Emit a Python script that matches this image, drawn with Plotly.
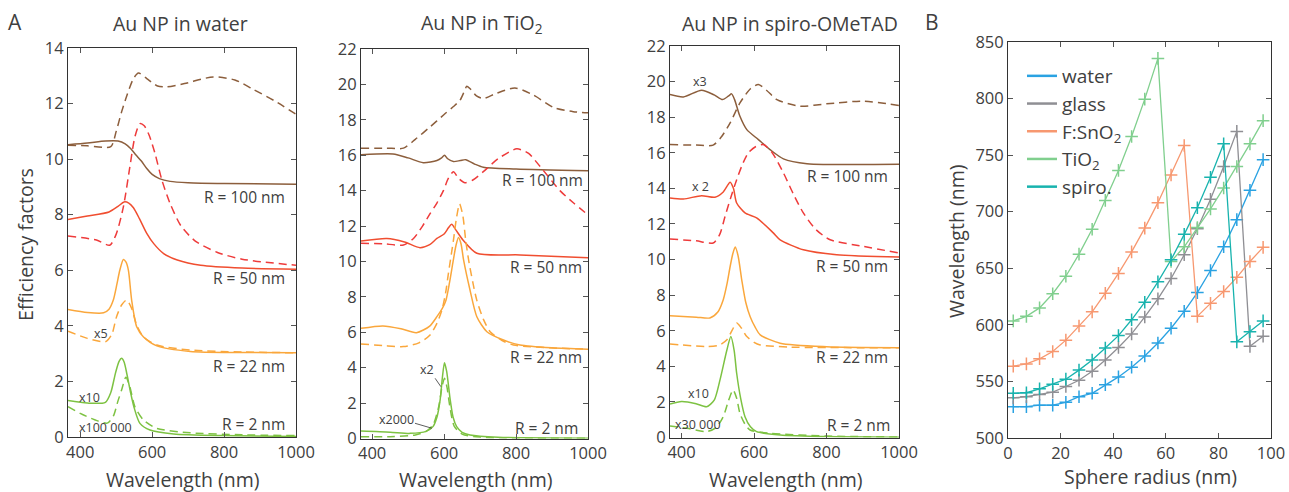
import plotly.graph_objects as go

# ---------------- Panel A data (wavelength nm, efficiency factor) ----------------
# Au NP in water
W_R100_SOLID_WL = [366, 420, 470, 505, 525, 540, 555, 570, 585, 600, 620, 650, 700, 800, 1000]
W_R100_SOLID = [10.52, 10.58, 10.65, 10.65, 10.55, 10.38, 10.15, 9.93, 9.66, 9.45, 9.3, 9.2, 9.15, 9.12, 9.1]
W_R100_DASH_WL = [366, 420, 485, 500, 515, 530, 548, 562, 585, 615, 640, 690, 770, 830, 880, 940, 1000]
W_R100_DASH = [10.5, 10.48, 10.45, 11.0, 11.7, 12.3, 12.9, 13.1, 12.9, 12.63, 12.6, 12.72, 12.96, 12.85, 12.52, 12.1, 11.62]
W_R50_SOLID_WL = [366, 420, 480, 505, 522, 535, 548, 565, 585, 605, 632, 670, 735, 850, 1000]
W_R50_SOLID = [7.83, 7.95, 8.1, 8.3, 8.46, 8.42, 8.25, 7.85, 7.33, 6.95, 6.6, 6.37, 6.18, 6.08, 6.04]
W_R50_DASH_WL = [366, 445, 482, 500, 520, 538, 552, 566, 578, 592, 608, 627, 650, 680, 720, 780, 850, 1000]
W_R50_DASH = [7.23, 7.09, 6.9, 7.3, 8.28, 9.72, 10.8, 11.28, 11.2, 10.85, 10.2, 9.25, 8.4, 7.6, 7.05, 6.65, 6.4, 6.18]
W_R22_SOLID_WL = [366, 420, 465, 480, 492, 502, 510, 520, 527, 534, 543, 557, 576, 613, 706, 850, 1000]
W_R22_SOLID = [4.59, 4.48, 4.47, 4.6, 4.93, 5.5, 6.0, 6.39, 6.3, 6.0, 4.93, 3.97, 3.6, 3.28, 3.08, 3.04, 3.03]
W_R22_DASH_WL = [366, 420, 470, 488, 501, 515, 529, 543, 557, 576, 613, 706, 850, 1000]
W_R22_DASH = [3.81, 3.55, 3.43, 3.7, 4.33, 4.75, 4.93, 4.63, 4.03, 3.6, 3.31, 3.13, 3.06, 3.03]
W_R2_SOLID_WL = [366, 420, 470, 485, 498, 508, 515, 522, 530, 540, 550, 566, 594, 660, 800, 1000]
W_R2_SOLID = [1.31, 1.22, 1.25, 1.6, 2.3, 2.72, 2.83, 2.7, 2.25, 1.6, 1.05, 0.49, 0.25, 0.11, 0.05, 0.02]
W_R2_DASH_WL = [366, 400, 440, 475, 492, 505, 515, 527, 538, 552, 576, 613, 706, 850, 1000]
W_R2_DASH = [1.09, 0.85, 0.62, 0.5, 0.75, 1.3, 1.69, 2.15, 1.81, 1.09, 0.61, 0.31, 0.15, 0.08, 0.05]

# Au NP in TiO2
T_R100_SOLID_WL = [369, 458, 500, 542, 580, 593, 601, 610, 626, 645, 660, 685, 709, 800, 1000]
T_R100_SOLID = [16.02, 16.07, 15.85, 15.58, 15.7, 15.85, 16.0, 15.8, 15.64, 15.7, 15.75, 15.5, 15.32, 15.22, 15.12]
T_R100_DASH_WL = [369, 440, 487, 520, 561, 600, 626, 644, 656, 663, 675, 690, 709, 746, 797, 848, 904, 959, 1000]
T_R100_DASH = [16.4, 16.4, 16.4, 16.9, 17.6, 18.3, 18.75, 19.1, 19.6, 19.9, 19.7, 19.35, 19.2, 19.5, 19.8, 19.4, 18.7, 18.46, 18.4]
T_R50_SOLID_WL = [369, 441, 490, 533, 560, 580, 600, 612, 621, 632, 653, 691, 811, 1000]
T_R50_SOLID = [11.15, 11.3, 11.1, 10.78, 10.95, 11.3, 11.55, 11.9, 12.1, 11.8, 11.2, 10.46, 10.37, 10.21]
T_R50_DASH_WL = [369, 430, 487, 515, 540, 561, 580, 598, 612, 626, 640, 658, 680, 709, 750, 802, 835, 867, 922, 960, 1000]
T_R50_DASH = [11.03, 11.0, 10.93, 11.3, 12.0, 12.7, 13.3, 14.0, 14.7, 15.07, 14.7, 14.45, 14.6, 15.07, 15.8, 16.36, 16.1, 15.36, 14.0, 13.3, 12.63]
T_R22_SOLID_WL = [369, 430, 480, 523, 560, 580, 595, 605, 615, 625, 633, 640, 647, 654, 672, 691, 719, 765, 811, 900, 1000]
T_R22_SOLID = [6.22, 6.36, 6.2, 5.98, 6.35, 6.88, 7.35, 7.8, 8.8, 10.0, 10.9, 11.35, 11.0, 10.1, 8.39, 6.88, 6.03, 5.56, 5.28, 5.12, 5.04]
T_R22_DASH_WL = [369, 430, 487, 530, 561, 580, 594, 604, 612, 620, 626, 634, 643, 652, 660, 668, 680, 691, 710, 728, 760, 793, 1000]
T_R22_DASH = [5.34, 5.25, 5.19, 5.4, 5.85, 6.5, 7.26, 8.2, 9.33, 10.4, 11.2, 12.4, 13.25, 12.6, 11.2, 10.1, 8.8, 7.8, 6.7, 6.03, 5.55, 5.28, 5.04]
T_R2_SOLID_WL = [369, 450, 505, 550, 569, 580, 589, 595, 601, 607, 617, 625, 635, 650, 672, 750, 1000]
T_R2_SOLID = [0.42, 0.36, 0.29, 0.4, 0.67, 1.2, 2.18, 3.4, 4.28, 3.8, 2.18, 1.2, 0.67, 0.35, 0.2, 0.07, 0.02]
T_R2_DASH_WL = [369, 450, 520, 550, 570, 585, 594, 601, 608, 616, 628, 650, 700, 1000]
T_R2_DASH = [0.1, 0.1, 0.2, 0.4, 0.8, 1.8, 2.9, 3.4, 2.9, 1.8, 0.7, 0.25, 0.08, 0.02]

# Au NP in spiro-OMeTAD
S_R100_SOLID_WL = [368, 405, 455, 490, 513, 530, 538, 546, 561, 580, 612, 644, 681, 746, 1000]
S_R100_SOLID = [19.27, 19.14, 19.52, 19.25, 18.99, 19.2, 19.31, 19.0, 18.05, 17.3, 16.74, 16.18, 15.66, 15.39, 15.35]
S_R100_DASH_WL = [368, 440, 487, 510, 534, 561, 590, 612, 635, 663, 727, 800, 902, 1000]
S_R100_DASH = [16.46, 16.43, 16.43, 16.9, 17.68, 18.8, 19.6, 19.84, 19.5, 18.99, 18.62, 18.75, 18.9, 18.66]
S_R50_SOLID_WL = [368, 405, 455, 492, 515, 534, 543, 552, 575, 607, 653, 672, 736, 828, 1000]
S_R50_SOLID = [13.46, 13.4, 13.59, 13.5, 13.8, 14.34, 14.0, 13.18, 12.62, 12.34, 11.5, 11.11, 10.55, 10.27, 10.14]
S_R50_DASH_WL = [368, 440, 487, 505, 520, 536, 552, 568, 584, 605, 626, 650, 681, 708, 736, 770, 810, 902, 1000]
S_R50_DASH = [11.15, 11.05, 10.93, 11.4, 12.43, 13.5, 14.49, 15.35, 15.99, 16.35, 16.46, 16.0, 14.87, 13.7, 12.62, 11.7, 11.11, 10.74, 10.37]
S_R22_SOLID_WL = [368, 441, 478, 500, 515, 525, 534, 541, 548, 556, 566, 577, 589, 603, 617, 672, 800, 1000]
S_R22_SOLID = [6.84, 6.76, 6.72, 7.05, 7.74, 8.6, 9.61, 10.3, 10.7, 10.2, 8.86, 7.6, 6.8, 6.2, 5.77, 5.3, 5.1, 5.05]
S_R22_DASH_WL = [368, 469, 505, 525, 540, 552, 565, 580, 600, 617, 700, 1000]
S_R22_DASH = [5.26, 5.11, 5.2, 5.49, 6.05, 6.43, 6.15, 5.67, 5.35, 5.2, 5.08, 5.05]
S_R2_SOLID_WL = [368, 400, 440, 469, 490, 506, 525, 536, 545, 552, 563, 575, 590, 607, 672, 800, 1000]
S_R2_SOLID = [1.88, 2.02, 1.9, 1.73, 2.1, 3.24, 4.92, 5.67, 4.9, 3.61, 2.2, 1.17, 0.6, 0.33, 0.14, 0.05, 0.02]
S_R2_DASH_WL = [368, 420, 469, 495, 515, 530, 542, 552, 561, 575, 589, 644, 800, 1000]
S_R2_DASH = [0.65, 0.5, 0.33, 0.55, 1.17, 2.1, 2.67, 2.2, 1.36, 0.75, 0.42, 0.24, 0.08, 0.03]

# ---------------- Panel B data ----------------
RADIUS = [2, 7, 12, 17, 22, 27, 32, 37, 42, 47, 52, 57, 62, 67, 72, 77, 82, 87, 92, 97]
B_WATER = [527.7, 527.7, 529, 529, 531.5, 536.5, 539.5, 547, 554, 562.5, 572.5, 584, 597, 612, 628.5, 648, 669, 693, 719, 746]
B_GLASS = [535.5, 536.5, 538.5, 540.5, 545.5, 551, 559, 569, 580, 592, 607, 623, 641, 662, 685, 711, 740, 771, 581, 590]
B_FSNO2 = [563.5, 565.5, 570, 576.5, 586.5, 599, 611.5, 628, 645.5, 664.5, 685.5, 708, 732.5, 758.5, 607.5, 619, 629.5, 642, 656, 668.5]
B_TIO2 = [603.5, 607.5, 615, 627.5, 643, 662.5, 684.5, 710, 736.5, 766.5, 799.5, 835.5, 656, 669, 686, 702.5, 721, 740, 760, 780.5]
B_SPIRO = [539.5, 540, 543.5, 547.5, 552, 560, 569, 579.5, 590.5, 604.5, 620, 638, 657.5, 680, 703.5, 730.5, 760, 585, 594, 603.5]

B_NAMES = ["water", "glass", "F:SnO<sub>2</sub>", "TiO<sub>2</sub>", "spiro."]
B_COLORS = ["#2aa2e2", "#8f8f94", "#f79870", "#80cf8e", "#18b3ae"]

TITLES = ["Au NP in water", "Au NP in TiO<sub>2</sub>", "Au NP in spiro-OMeTAD"]

C_BROWN = "#8c5e3c"
C_RED_SOLID = "#f04e30"
C_RED_DASH = "#ee3b3b"
C_ORANGE = "#faa73c"
C_GREEN = "#7dc242"

FONT = "Open Sans"
TXT = "#404040"
W, H = 1289, 492

fig = go.Figure()

def px_x(p):
    return p / W

def px_y(p):
    return 1 - p / H

panels = [
    dict(ax="", curves=[
        (W_R100_DASH_WL, W_R100_DASH, C_BROWN, True), (W_R100_SOLID_WL, W_R100_SOLID, C_BROWN, False),
        (W_R50_DASH_WL, W_R50_DASH, C_RED_DASH, True), (W_R50_SOLID_WL, W_R50_SOLID, C_RED_SOLID, False),
        (W_R22_DASH_WL, W_R22_DASH, C_ORANGE, True), (W_R22_SOLID_WL, W_R22_SOLID, C_ORANGE, False),
        (W_R2_DASH_WL, W_R2_DASH, C_GREEN, True), (W_R2_SOLID_WL, W_R2_SOLID, C_GREEN, False)]),
    dict(ax="2", curves=[
        (T_R100_DASH_WL, T_R100_DASH, C_BROWN, True), (T_R100_SOLID_WL, T_R100_SOLID, C_BROWN, False),
        (T_R50_DASH_WL, T_R50_DASH, C_RED_DASH, True), (T_R50_SOLID_WL, T_R50_SOLID, C_RED_SOLID, False),
        (T_R22_DASH_WL, T_R22_DASH, C_ORANGE, True), (T_R22_SOLID_WL, T_R22_SOLID, C_ORANGE, False),
        (T_R2_DASH_WL, T_R2_DASH, C_GREEN, True), (T_R2_SOLID_WL, T_R2_SOLID, C_GREEN, False)]),
    dict(ax="3", curves=[
        (S_R100_DASH_WL, S_R100_DASH, C_BROWN, True), (S_R100_SOLID_WL, S_R100_SOLID, C_BROWN, False),
        (S_R50_DASH_WL, S_R50_DASH, C_RED_DASH, True), (S_R50_SOLID_WL, S_R50_SOLID, C_RED_SOLID, False),
        (S_R22_DASH_WL, S_R22_DASH, C_ORANGE, True), (S_R22_SOLID_WL, S_R22_SOLID, C_ORANGE, False),
        (S_R2_DASH_WL, S_R2_DASH, C_GREEN, True), (S_R2_SOLID_WL, S_R2_SOLID, C_GREEN, False)]),
]

for p in panels:
    for wl, val, col, dashed in p["curves"]:
        fig.add_trace(go.Scatter(
            x=wl, y=val, mode="lines", showlegend=False, hoverinfo="skip",
            line=dict(color=col, width=1.5, shape="spline", smoothing=0.7,
                      dash="8px,5px" if dashed else "solid"),
            xaxis="x" + p["ax"], yaxis="y" + p["ax"]))

# Panel B traces
for vals, name, col in zip([B_WATER, B_GLASS, B_FSNO2, B_TIO2, B_SPIRO], B_NAMES, B_COLORS):
    fig.add_trace(go.Scatter(
        x=RADIUS, y=vals, mode="lines+markers", showlegend=False, hoverinfo="skip",
        line=dict(color=col, width=1.3),
        marker=dict(symbol="cross-thin", size=9, line=dict(color=col, width=1.5)),
        xaxis="x4", yaxis="y4"))
for name, col in zip(B_NAMES, B_COLORS):
    fig.add_trace(go.Scatter(x=[None], y=[None], mode="lines", name=name,
                             line=dict(color=col, width=2.5), xaxis="x4", yaxis="y4"))

common_axis = dict(showline=True, linecolor="#333333", linewidth=1, mirror="ticks",
                   ticks="inside", ticklen=5, tickcolor="#555555", showgrid=False, zeroline=False,
                   automargin=False,
                   tickfont=dict(family=FONT, size=16.5, color=TXT))

# domains in pixels: (left, right, top, bottom)
dom = {
    "": (68, 296, 48, 437),
    "2": (361, 588, 49, 438.5),
    "3": (670, 899, 46, 437.5),
    "4": (1008, 1271, 42, 438),
}
xranges = {"": [366, 1000], "2": [369, 1000], "3": [368, 1000], "4": [0, 100]}
yranges = {"": [0, 14], "2": [0, 22], "3": [0, 22], "4": [500, 850]}
ytickv = {"": list(range(0, 15, 2)), "2": list(range(0, 23, 2)), "3": list(range(0, 23, 2)),
          "4": list(range(500, 851, 50))}
xtickv = {"": [400, 600, 800, 1000], "2": [400, 600, 800, 1000], "3": [400, 600, 800, 1000],
          "4": [0, 20, 40, 60, 80, 100]}

layout_axes = {}
for k, (l, r, t, b) in dom.items():
    xa = dict(common_axis, domain=[px_x(l), px_x(r)], range=xranges[k], tickvals=xtickv[k],
              anchor="y" + k)
    ya = dict(common_axis, domain=[px_y(b), px_y(t)], range=yranges[k], tickvals=ytickv[k],
              anchor="x" + k)
    layout_axes["xaxis" + k] = xa
    layout_axes["yaxis" + k] = ya

fig.update_layout(**layout_axes)

ann = []
def A(x, y, text, size, xref="paper", yref="paper", xanchor="center", angle=0, yanchor="middle"):
    ann.append(dict(x=x, y=y, text=text, xref=xref, yref=yref, showarrow=False,
                    xanchor=xanchor, yanchor=yanchor, textangle=angle,
                    font=dict(family=FONT, size=size, color=TXT)))

# Panel letters and titles
A(px_x(15), px_y(22), "A", 21)
A(px_x(932), px_y(22), "B", 21)
A(px_x(180), px_y(23), TITLES[0], 19.5)
A(px_x(482), px_y(23), TITLES[1], 19.5)
A(px_x(790), px_y(23), TITLES[2], 19.5)

# Axis titles
A(px_x(25), px_y(245), "Efficiency factors", 19.5, angle=-90)
A(px_x(182), px_y(479), "Wavelength (nm)", 19.5)
A(px_x(475), px_y(479), "Wavelength (nm)", 19.5)
A(px_x(785), px_y(479), "Wavelength (nm)", 19.5)
A(px_x(1150), px_y(476), "Sphere radius (nm)", 19.5)
A(px_x(956), px_y(242), "Wavelength (nm)", 19.5, angle=-90)

# In-panel labels (data coordinates)
for xr, yr, items in [
    ("x", "y", [(976, 8.64, "R = 100 nm", 15.5, "right"), (976, 5.71, "R = 50 nm", 15.5, "right"),
                (976, 2.55, "R = 22 nm", 15.5, "right"), (976, 0.46, "R = 2 nm", 15.5, "right"),
                (459, 3.73, "x5", 12.5, "center"), (425, 1.41, "x10", 12.5, "center"),
                (469, 0.34, "x100 000", 12.5, "center")]),
    ("x2", "y2", [(992, 14.6, "R = 100 nm", 15.5, "right"), (990, 9.7, "R = 50 nm", 15.5, "right"),
                  (990, 4.62, "R = 22 nm", 15.5, "right"), (978, 0.58, "R = 2 nm", 15.5, "right"),
                  (552, 3.9, "x2", 12.5, "center"), (468, 1.05, "x2000", 12.5, "center")]),
    ("x3", "y3", [(975, 14.68, "R = 100 nm", 15.5, "right"), (975, 9.61, "R = 50 nm", 15.5, "right"),
                  (975, 4.51, "R = 22 nm", 15.5, "right"), (980, 0.7, "R = 2 nm", 15.5, "right"),
                  (451, 20.0, "x3", 12.5, "center"), (453, 14.08, "x 2", 12.5, "center"),
                  (446, 2.45, "x10", 12.5, "center"), (446, 0.74, "x30 000", 12.5, "center")]),
]:
    for x, y, t, s, xa in items:
        A(x, y, t, s, xref=xr, yref=yr, xanchor=xa)

shapes = [
    dict(type="line", xref="x2", yref="y2", x0=575, y0=3.4, x1=591, y1=2.93,
         line=dict(color="#333333", width=0.8)),
    dict(type="line", xref="x2", yref="y2", x0=519, y0=0.86, x1=566, y1=0.58,
         line=dict(color="#333333", width=0.8)),
]

fig.update_layout(
    width=W, height=H, margin=dict(l=0, r=0, t=0, b=0, autoexpand=False),
    paper_bgcolor="white", plot_bgcolor="white",
    font=dict(family=FONT, color=TXT),
    annotations=ann, shapes=shapes,
    legend=dict(x=px_x(1022), y=px_y(57), xanchor="left", yanchor="top",
                bgcolor="rgba(0,0,0,0)", font=dict(family=FONT, size=19, color=TXT),
                tracegroupgap=0),
)

fig.write_html("out.html")
